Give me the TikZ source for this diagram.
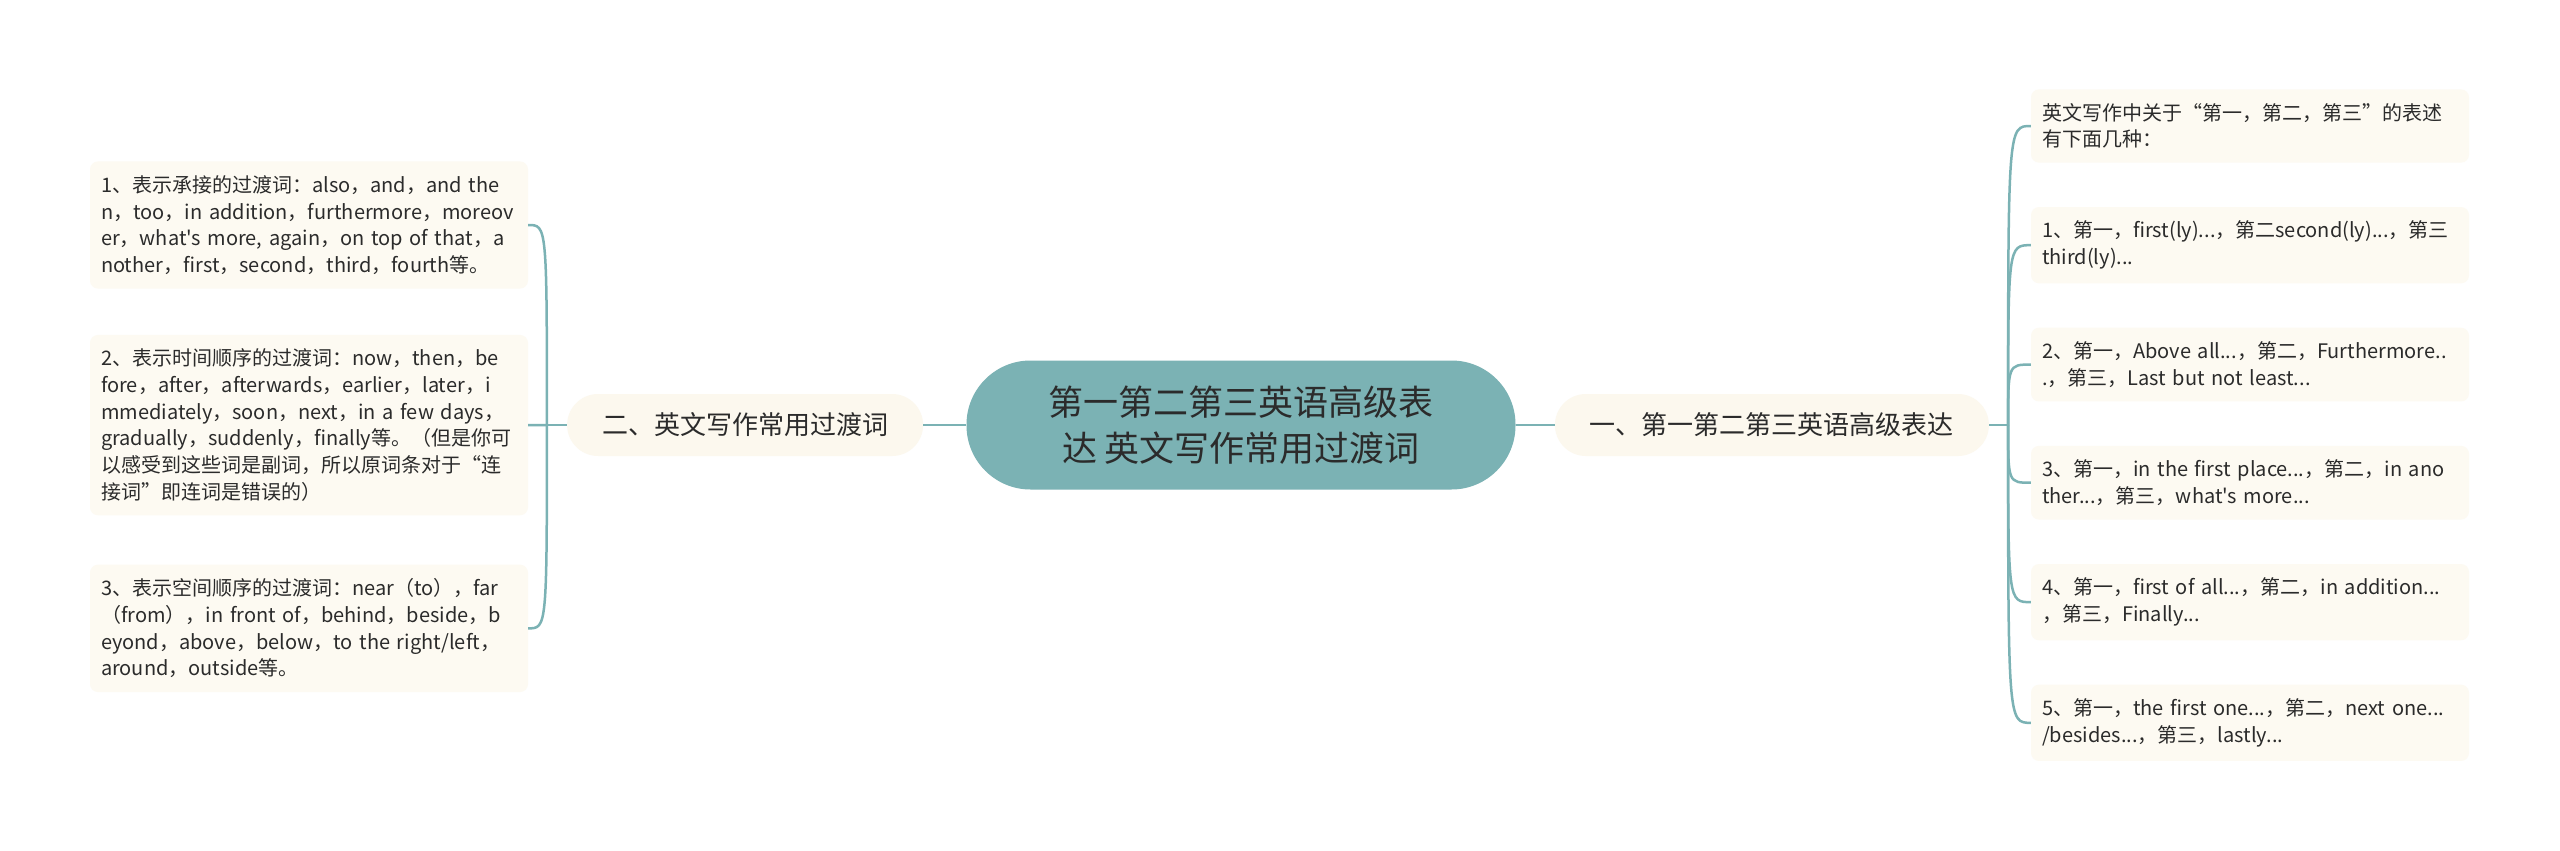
\documentclass[tikz,border=0pt]{standalone}
\usepackage{fontspec}
\setmainfont{Noto Sans CJK SC}[Ligatures=TeXOff]
\usepackage{tikz}
\usetikzlibrary{positioning}
\definecolor{mapteal}{HTML}{7BB2B4}
\definecolor{leafbg}{HTML}{FDFAF2}
\definecolor{branchbg}{HTML}{FCF8EE}
\definecolor{inkgray}{HTML}{2B2B2B}

\begin{document}
\begin{tikzpicture}[x=1pt,y=-1pt,
                    rootnode/.style={fill=mapteal,rounded corners=64pt,minimum width=549pt,minimum height=129pt,align=center,text=inkgray,font=\fontsize{35}{46}\selectfont},
                    branchnode/.style={fill=branchbg,rounded corners=31pt,minimum height=62pt,inner xsep=35pt,text=inkgray,font=\fontsize{26}{30}\selectfont},
                    leafnode/.style={fill=leafbg,rounded corners=8pt,text width=416pt,align=left,inner xsep=11pt,inner ysep=14pt,text=inkgray,font=\fontsize{20}{26.7}\selectfont,execute at begin node={\hyphenpenalty=10000}},
                    link/.style={draw=mapteal,line width=2.5pt}]
                    \path[use as bounding box,fill=white] (0,0) rectangle (2560,851);
                    \node[rootnode] (root) at (1241,425) {第一第二第三英语高级表\\达 英文写作常用过渡词};
                    \node[branchnode,right=39pt of root] (rbranch) {一、第一第二第三英语高级表达};
                    \node[branchnode,left=43pt of root] (lbranch) {二、英文写作常用过渡词};
                    \coordinate[right=19pt of rbranch] (rhub);
                    \coordinate[left=20pt of lbranch] (lhub);
                    \node[leafnode] (r0) at (2250,126) {英文写作中关于“第一，第二，第三”的表述\\有下面几种：};
                    \node[leafnode,below=44pt of r0] (r1) {1、第一，first(ly)...，第二second(ly)...，第三\\third(ly)...};
                    \node[leafnode,below=44pt of r1] (r2) {2、第一，Above all...，第二，Furthermore..\\.，第三，Last but not least...};
                    \node[leafnode,below=44pt of r2] (r3) {3、第一，in the first place...，第二，in ano\\ther...，第三，what's more...};
                    \node[leafnode,below=44pt of r3] (r4) {4、第一，first of all...，第二，in addition...\\，第三，Finally...};
                    \node[leafnode,below=44pt of r4] (r5) {5、第一，the first one...，第二，next one...\\/besides...，第三，lastly...};
                    \node[leafnode] (l1) at (309,225) {1、表示承接的过渡词：also，and，and the\\n，too，in addition，furthermore，moreov\\er，what's more, again，on top of that，a\\nother，first，second，third，fourth等。};
                    \node[leafnode,below=46pt of l1] (l2) {2、表示时间顺序的过渡词：now，then，be\\fore，after，afterwards，earlier，later，i\\mmediately，soon，next，in a few days，\\gradually，suddenly，finally等。（但是你可\\以感受到这些词是副词，所以原词条对于“连\\接词”即连词是错误的）};
                    \node[leafnode,below=49pt of l2] (l3) {3、表示空间顺序的过渡词：near（to），far\\（from），in front of，behind，beside，b\\eyond，above，below，to the right/left，\\around，outside等。};
                    \draw[link] (root.east) -- (rbranch.west);
                    \draw[link] (root.west) -- (lbranch.east);
                    \draw[link] (rbranch.east) -- (rhub);
                    \draw[link] (lbranch.west) -- (lhub);
                    \draw[link] (rhub) .. controls (rhub |- r0.west) and (rhub |- r0.west) .. (r0.west);
                    \draw[link] (rhub) .. controls (rhub |- r1.west) and (rhub |- r1.west) .. (r1.west);
                    \draw[link] (rhub) .. controls (rhub |- r2.west) and (rhub |- r2.west) .. (r2.west);
                    \draw[link] (rhub) .. controls (rhub |- r3.west) and (rhub |- r3.west) .. (r3.west);
                    \draw[link] (rhub) .. controls (rhub |- r4.west) and (rhub |- r4.west) .. (r4.west);
                    \draw[link] (rhub) .. controls (rhub |- r5.west) and (rhub |- r5.west) .. (r5.west);
                    \draw[link] (lhub) .. controls (lhub |- l1.east) and (lhub |- l1.east) .. (l1.east);
                    \draw[link] (lhub) .. controls (lhub |- l2.east) and (lhub |- l2.east) .. (l2.east);
                    \draw[link] (lhub) .. controls (lhub |- l3.east) and (lhub |- l3.east) .. (l3.east);
\end{tikzpicture}
\end{document}
